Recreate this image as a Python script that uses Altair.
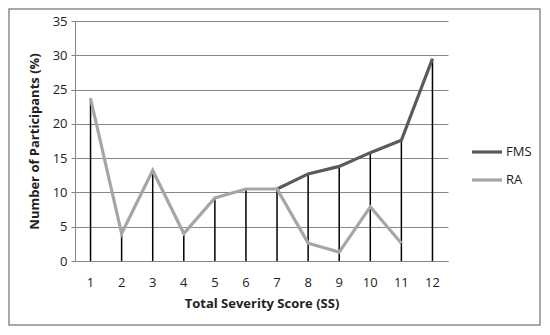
import altair as alt
import pandas as pd

scores = list(range(1, 13))
fms_scores = [7, 8, 9, 10, 11, 12]
fms_values = [10.5, 12.7, 13.8, 15.8, 17.6, 29.5]
ra_scores = [1, 2, 3, 4, 5, 6, 7, 8, 9, 10, 11]
ra_values = [23.7, 4.0, 13.2, 4.0, 9.2, 10.5, 10.5, 2.6, 1.3, 7.9, 2.6]
y_ticks = [0, 5, 10, 15, 20, 25, 30, 35]

rows = [{"SS": s, "Series": "FMS", "Value": v} for s, v in zip(fms_scores, fms_values)]
rows += [{"SS": s, "Series": "RA", "Value": v} for s, v in zip(ra_scores, ra_values)]
df = pd.DataFrame(rows)
drop = df.groupby("SS", as_index=False)["Value"].max()

FONT = "Open Sans"

x_enc = alt.X("SS:O", title="Total Severity Score (SS)",
              scale=alt.Scale(domain=scores, paddingInner=0, paddingOuter=0, align=0.5),
              axis=alt.Axis(labelAngle=0, tickSize=0, labelPadding=15, titlePadding=8,
                            domainColor="#868686", grid=False))
y_enc = alt.Y("Value:Q", scale=alt.Scale(domain=[0, 35]), title="Number of Participants (%)",
              axis=alt.Axis(values=y_ticks, tickSize=4, tickColor="#868686", labelOverlap=False,
                            labelPadding=4, titlePadding=11, gridColor="#868686",
                            domainColor="#868686"))

frame = alt.Chart(pd.DataFrame({"a": [0]})).mark_rect(
    fillOpacity=0, stroke="#8c8c8c", strokeWidth=1.5, clip=False
).encode(x=alt.value(-66), x2=alt.value(465), y=alt.value(-12), y2=alt.value(304))

rules = alt.Chart(drop).mark_rule(color="black", strokeWidth=1.5).encode(
    x=x_enc,
    y=y_enc,
    y2=alt.datum(0),
)

lines = alt.Chart(df).mark_line(strokeWidth=3.2).encode(
    x=x_enc,
    y=y_enc,
    color=alt.Color("Series:N",
                    scale=alt.Scale(domain=["FMS", "RA"], range=["#5a5a5a", "#a6a6a6"]),
                    legend=alt.Legend(title=None, orient="none", legendX=395, legendY=114,
                                      symbolType="stroke", symbolSize=900, symbolStrokeWidth=3.2,
                                      labelFontSize=13, labelFont=FONT, labelOffset=2,
                                      rowPadding=4, labelColor="#222")),
)

chart = alt.layer(rules, lines, frame).properties(
    width=373, height=240,
    autosize=alt.AutoSizeParams(type="none"),
    padding={"left": 67, "top": 13, "right": 94, "bottom": 66},
).configure_view(stroke=None).configure_axis(
    labelFont=FONT, titleFont=FONT, labelFontSize=13, titleFontSize=13,
    titleFontWeight="bold", labelColor="#222", titleColor="#222",
)

chart.save("out.html", embed_options={"renderer": "svg", "actions": False})
